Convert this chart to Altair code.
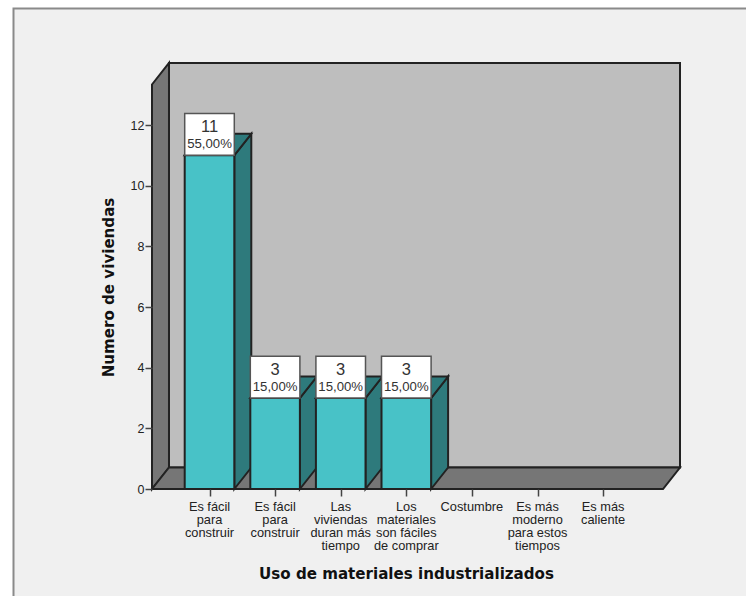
import altair as alt
import pandas as pd

categories = ["Es fácil\npara\nconstruir", "Es fácil\npara\nconstruir",
              "Las\nviviendas\nduran más\ntiempo", "Los\nmateriales\nson fáciles\nde comprar",
              "Costumbre", "Es más\nmoderno\npara estos\ntiempos", "Es más\ncaliente"]
counts = [11, 3, 3, 3, 0, 0, 0]
percents = ["55,00%", "15,00%", "15,00%", "15,00%", "", "", ""]
y_ticks = [0, 2, 4, 6, 8, 10, 12]

# Axis geometry of the oblique box, in data units
X_MIN, X_MAX = 0.1235, 8.172
Y_MAX = 14.045
DX, DY = 0.259, 0.709
FRONT_TOP = Y_MAX - DY
HALF = 0.378
BOX_H = 1.38

TEAL, TEAL_DARK = "#48C2C7", "#2E7A7C"
WALL, SHADE = "#BEBEBE", "#767676"
INK = "#222222"
EDGE = 2
W, H = 528, 426
LEFT, TOP = 152, 63

pos = list(range(1, len(categories) + 1))
bars = pd.DataFrame({"pos": pos, "count": counts, "pct": percents})
bars = bars[bars["count"] > 0]
bars["l"] = bars["pos"] - HALF
bars["r"] = bars["pos"] + HALF
bars["box"] = bars["count"] + BOX_H
bars["rd"] = bars["r"] + DX
bars["top"] = bars["count"] + DY

x_s = alt.Scale(domain=[X_MIN, X_MAX], nice=False, zero=False)
y_s = alt.Scale(domain=[0, Y_MAX], nice=False, zero=False)

# Every layer shares one axis definition per channel so they merge cleanly
x_axis = alt.Axis(values=pos, labels=False, domain=False, grid=False, tickSize=7,
                  tickColor="#444444", tickWidth=1.5, zindex=1,
                  title="Uso de materiales industrializados", titleFont="DejaVu Sans",
                  titleFontSize=15.1, titleFontWeight="bold", titleColor="#111111",
                  titleX=254, titleY=84, titleBaseline="middle")
y_axis = alt.Axis(values=y_ticks, domain=False, grid=False, tickSize=7, tickColor="#444444",
                  tickWidth=1.5, labelFont="Liberation Sans", labelFontSize=12.5, zindex=1,
                  labelColor="#222222", labelPadding=1, format="d",
                  title="Numero de viviendas", titleFont="DejaVu Sans", titleFontSize=15.1,
                  titleFontWeight="bold", titleColor="#111111", titleX=-44, titleY=224,
                  titleBaseline="middle")


def X(field):
    return alt.X(field, type="quantitative", scale=x_s, axis=x_axis)


def Y(field):
    return alt.Y(field, type="quantitative", scale=y_s, axis=y_axis)


def face(rows, fill):
    # Oblique faces are areas between two edges in data space
    return alt.Chart(pd.DataFrame(rows, columns=["id", "x", "lo", "hi"])).mark_area(
        fill=fill, stroke=INK, strokeWidth=EDGE, opacity=1
    ).encode(X("x"), Y("lo"), alt.Y2("hi"), detail="id:N")


# Panel background; its right and bottom edges run past the page
frame = alt.Chart(pd.DataFrame({"a": [0]})).mark_rect(
    fill="#F0F0F0", stroke="#8A8A8A", strokeWidth=2
).encode(x=alt.value(13.5 - LEFT), x2=alt.value(770 - LEFT),
         y=alt.value(8.5 - TOP), y2=alt.value(620 - TOP))

back = alt.Chart(pd.DataFrame({"x": [X_MIN + DX], "x2": [X_MAX], "y": [DY], "y2": [Y_MAX]})).mark_rect(
    fill=WALL, stroke=INK, strokeWidth=EDGE
).encode(X("x"), alt.X2("x2"), Y("y"), alt.Y2("y2"))

left_wall = face([(0, X_MIN, 0, FRONT_TOP), (0, X_MIN + DX, DY, Y_MAX)], SHADE)
floor = face([(0, X_MIN, 0, 0), (0, X_MIN + DX, 0, DY),
              (0, X_MAX - DX, 0, DY), (0, X_MAX, DY, DY)], SHADE)

side_rows, top_rows = [], []
for _, b in bars.iterrows():
    side_rows += [(b.pos, b.r, 0, b["count"]), (b.pos, b.rd, DY, b.top)]
    top_rows += [(b.pos, b.l, b["count"], b["count"]), (b.pos, b.l + DX, b["count"], b.top),
                 (b.pos, b.r, b["count"], b.top), (b.pos, b.rd, b.top, b.top)]
sides = face(side_rows, TEAL_DARK)
tops = face(top_rows, TEAL_DARK)

fronts = alt.Chart(bars).mark_rect(fill=TEAL, stroke=INK, strokeWidth=EDGE).encode(
    X("l"), alt.X2("r"), Y("zero"), alt.Y2("count")
).transform_calculate(zero="0")

boxes = alt.Chart(bars).mark_rect(fill="white", stroke="#555555", strokeWidth=1.5).encode(
    X("l"), alt.X2("r"), Y("count"), alt.Y2("box")
)
n_text = alt.Chart(bars).mark_text(font="Liberation Sans", fontSize=16.5, color="#333333", dy=-28).encode(
    X("pos"), Y("count"), text="count:Q"
)
p_text = alt.Chart(bars).mark_text(font="Liberation Sans", fontSize=13.2, color="#333333", dy=-11.5).encode(
    X("pos"), Y("count"), text="pct:N"
)

cat_labels = alt.Chart(pd.DataFrame({"pos": pos, "label": categories})).mark_text(
    font="Liberation Sans", fontSize=12.8, color="#222222", baseline="top",
    lineBreak="\n", lineHeight=13
).encode(X("pos"), y=alt.value(H + 12), text="label:N")

chart = alt.layer(frame, back, left_wall, floor, sides, tops, fronts, boxes,
                  n_text, p_text, cat_labels).properties(
    width=W, height=H,
    autosize=alt.AutoSizeParams(type="none"),
    padding={"left": LEFT, "top": TOP, "right": 746 - LEFT - W, "bottom": 596 - TOP - H},
    background="white",
).configure_view(stroke=None)

chart.save("out.html", embed_options={"renderer": "svg", "actions": False})
